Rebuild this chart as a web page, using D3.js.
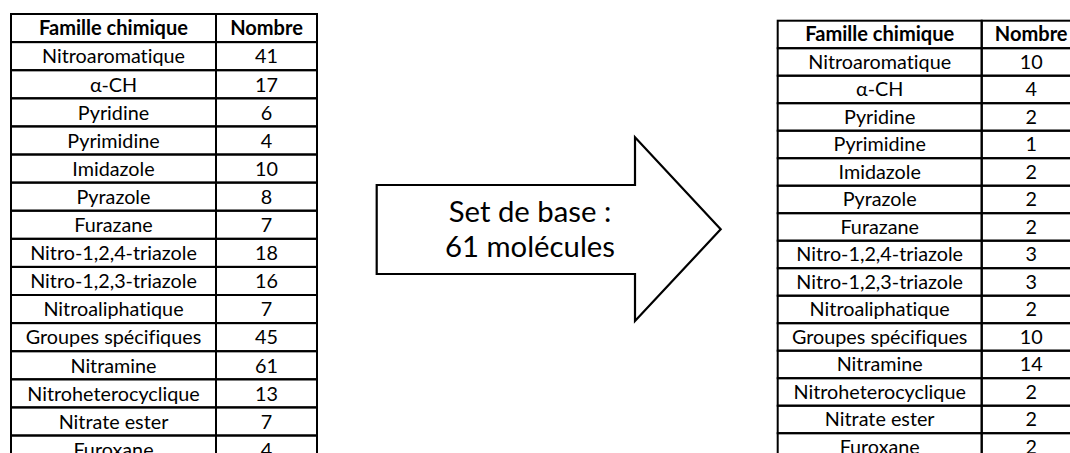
<!DOCTYPE html>
<html>
<head>
<meta charset="utf-8">
<script src="https://cdn.jsdelivr.net/npm/d3@7"></script>
<style>
  html, body { margin: 0; padding: 0; background: #fff; }
  svg { display: block; }
  text { font-family: Lato, "Open Sans", sans-serif; fill: #000; font-variant-ligatures: none; font-feature-settings: "liga" 0, "clig" 0; }
</style>
</head>
<body>
<svg id="chart" width="1070" height="453"></svg>
<script>
// ---- data ----
const headers = ["Famille chimique", "Nombre"];
const categories = [
  "Nitroaromatique", "\u03B1-CH", "Pyridine", "Pyrimidine", "Imidazole",
  "Pyrazole", "Furazane", "Nitro-1,2,4-triazole", "Nitro-1,2,3-triazole",
  "Nitroaliphatique", "Groupes sp\u00E9cifiques", "Nitramine",
  "Nitroheterocyclique", "Nitrate ester", "Furoxane"
];
const countsAll  = [41, 17, 6, 4, 10, 8, 7, 18, 16, 7, 45, 61, 13, 7, 4];
const countsBase = [10, 4, 2, 1, 2, 2, 2, 3, 3, 2, 10, 14, 2, 2, 2];
const arrowLines = ["Set de base :", "61 mol\u00E9cules"];

// ---- layout ----
const svg = d3.select("#chart");

function fitSize(str, target, weight) {
  const t = svg.append("text").attr("font-size", 100).attr("font-weight", weight || "normal").text(str);
  const w = t.node().getComputedTextLength();
  t.remove();
  return 100 * target / w;
}
const bodySize = fitSize("Nitroaromatique", 143);
const headSize = fitSize("Famille chimique", 149, "bold");
const arrowSize = fitSize("61 mol\u00E9cules", 170);

function drawTable(values, cfg) {
  const g = svg.append("g");
  const nRows = categories.length + 1;
  const y = d3.scaleBand().domain(d3.range(nRows)).range([cfg.y0, cfg.y0 + nRows * cfg.rowH]).padding(0);
  const x = d3.scaleOrdinal().domain([0, 1]).range([cfg.x0, cfg.x0 + cfg.colW[0]]);
  const rows = [headers].concat(categories.map((c, i) => [c, String(values[i])]));

  rows.forEach((r, ri) => {
    [0, 1].forEach(ci => {
      g.append("rect")
        .attr("x", x(ci)).attr("y", y(ri))
        .attr("width", cfg.colW[ci]).attr("height", y.bandwidth())
        .attr("fill", "none").attr("stroke", "#000").attr("stroke-width", 2);
      g.append("text")
        .attr("x", x(ci) + cfg.colW[ci] / 2)
        .attr("y", y(ri) + y.bandwidth() / 2 + cfg.base)
        .attr("text-anchor", "middle")
        .attr("font-size", ri === 0 ? headSize : bodySize)
        .attr("font-weight", ri === 0 ? "bold" : "normal")
        .text(r[ci]);
    });
  });
}

drawTable(countsAll,  { x0: 11,    y0: 14,   colW: [205, 101], rowH: 28.1, base: 7.3 });
drawTable(countsBase, { x0: 777.7, y0: 20.7, colW: [204, 99],  rowH: 27.5, base: 7.0 });

// ---- arrow ----
const ar = { x0: 376.7, x1: 635, xt: 720.7, sTop: 185, sBot: 274, hTop: 137.3, hBot: 321, yt: 229.3 };
const p = d3.path();
p.moveTo(ar.x0, ar.sTop);
p.lineTo(ar.x1, ar.sTop);
p.lineTo(ar.x1, ar.hTop);
p.lineTo(ar.xt, ar.yt);
p.lineTo(ar.x1, ar.hBot);
p.lineTo(ar.x1, ar.sBot);
p.lineTo(ar.x0, ar.sBot);
p.closePath();
svg.append("path").attr("d", p.toString())
  .attr("fill", "#fff").attr("stroke", "#000").attr("stroke-width", 2.2)
  .attr("stroke-linejoin", "miter");

svg.selectAll("text.arrow").data(arrowLines).join("text")
  .attr("class", "arrow")
  .attr("x", 530)
  .attr("y", (d, i) => 221.7 + i * 35.6)
  .attr("text-anchor", "middle")
  .attr("font-size", arrowSize)
  .text(d => d);
</script>
</body>
</html>
